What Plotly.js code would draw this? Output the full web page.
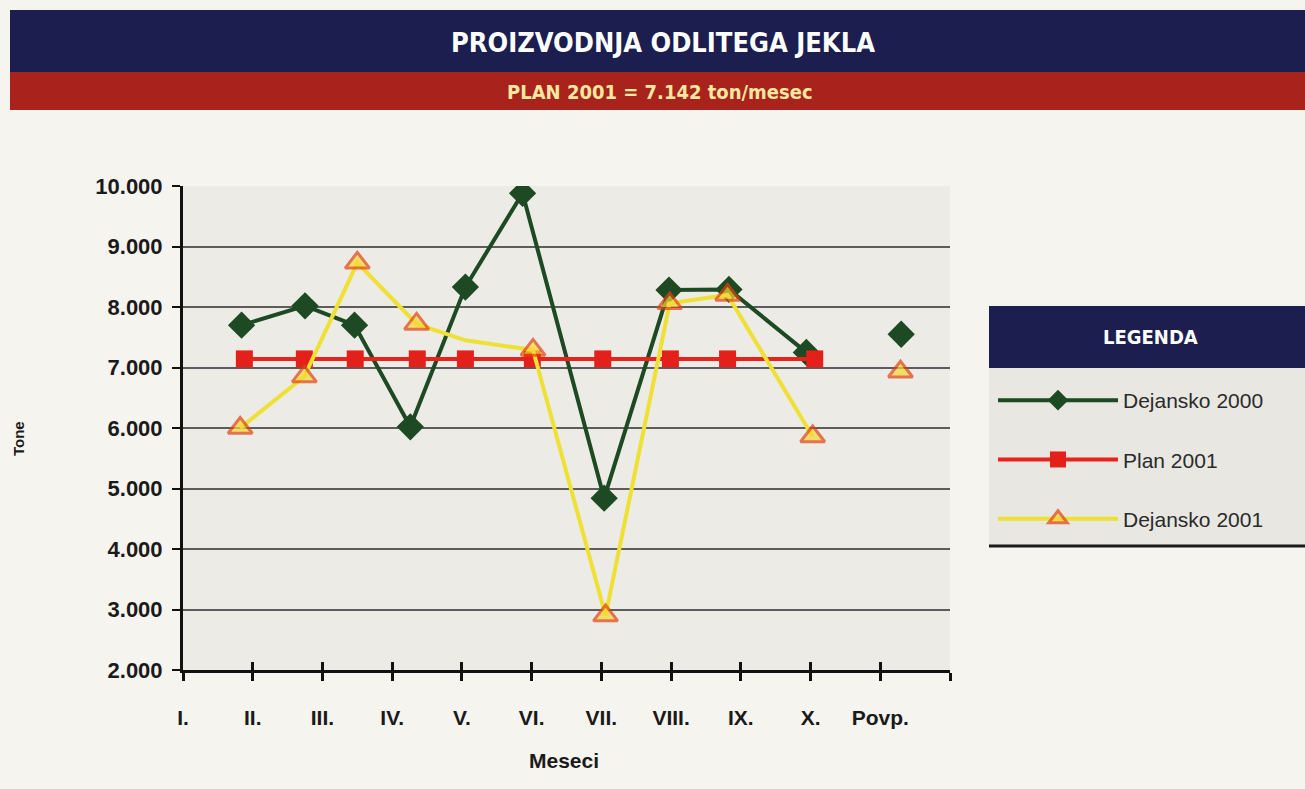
<!DOCTYPE html>
<html>
<head>
<meta charset="utf-8">
<script src="https://cdn.plot.ly/plotly-3.0.1.min.js"></script>
<style>
  html, body { margin: 0; padding: 0; background: #f6f4ee; }
  #chart { width: 1305px; height: 789px; }
</style>
</head>
<body>
<div id="chart"></div>
<script>
// month labels on the x axis (one extra unlabeled tick closes the axis)
const monthLabels = ["I.", "II.", "III.", "IV.", "V.", "VI.", "VII.", "VIII.", "IX.", "X.", "Povp.", ""];
const monthTicks = [0, 1, 2, 3, 4, 5, 6, 7, 8, 9, 10, 11];

// points sit a bit off the tick marks in the original, so x is read per point
const actual2000X = [0.84, 1.75, 2.46, 3.26, 4.05, 4.87, 6.04, 6.97, 7.83, 8.94];
const actual2000Y = [7700, 8020, 7700, 6020, 8330, 9880, 4840, 8280, 8290, 7250];
const actual2000AvgX = [10.30];
const actual2000AvgY = [7550];

const plan2001X = [0.88, 1.74, 2.47, 3.36, 4.05, 5.01, 6.02, 6.99, 7.81, 9.06];
const plan2001Y = [7142, 7142, 7142, 7142, 7142, 7142, 7142, 7142, 7142, 7142];

const actual2001X = [0.82, 1.74, 2.50, 3.35, 4.05, 5.02, 6.06, 6.98, 7.81, 9.03, null, 10.29];
const actual2001Y = [6000, 6850, 8730, 7720, 7450, 7290, 2900, 8060, 8200, 5860, null, 6930];
const actual2001Size = [21, 21, 21, 21, 0, 21, 21, 21, 21, 21, 0, 21];

const seriesNames = ["Dejansko 2000", "Plan 2001", "Dejansko 2001"];

// pixel -> paper helpers (plot area spans x 183..950, y 186..670)
const L = 183, R = 950, T = 186, B = 670;
const px = x => (x - L) / (R - L);
const py = y => (B - y) / (B - T);

const traces = [
    {
        name: seriesNames[0], legendgroup: "a",
        x: actual2000X, y: actual2000Y,
        type: "scatter", mode: "lines+markers",
        line: { color: "#1d4a22", width: 4 },
        marker: { symbol: "diamond", size: 21, color: "#1d4a22" }
    },
    {
        // average point, drawn on the overlay axis so its crossing ticks show
        name: seriesNames[0] + " povp.", showlegend: false, xaxis: "x2",
        x: actual2000AvgX, y: actual2000AvgY,
        type: "scatter", mode: "markers",
        marker: { symbol: "diamond", size: 21, color: "#1d4a22" }
    },
    {
        name: seriesNames[1], legendgroup: "b",
        x: plan2001X, y: plan2001Y,
        type: "scatter", mode: "lines+markers",
        line: { color: "#e8231c", width: 4 },
        marker: { symbol: "square", size: 17, color: "#e3201a" }
    },
    {
        name: seriesNames[2], legendgroup: "c",
        x: actual2001X, y: actual2001Y,
        type: "scatter", mode: "lines+markers", connectgaps: false,
        line: { color: "#efe035", width: 4 },
        marker: {
            symbol: "triangle-up", size: actual2001Size, color: "#f5d835",
            line: { color: "#e2420e", width: 3 }
        }
    }
];

const titleFont = "DejaVu Sans Condensed, Liberation Sans Narrow, sans-serif";

const layout = {
    width: 1305, height: 789,
    paper_bgcolor: "#f6f4ee", plot_bgcolor: "#ecebe5",
    margin: { l: L, r: 1305 - R, t: T, b: 789 - B },
    separators: ",.",
    font: { family: "Liberation Sans, Arial, sans-serif", color: "#1a1a1a" },
    xaxis: {
        range: [0, 11], tickvals: monthTicks, ticktext: monthLabels,
        showgrid: false, zeroline: false,
        showline: true, linecolor: "#111", linewidth: 3,
        ticks: "outside", ticklen: 8, tickwidth: 3, tickcolor: "#111",
        ticklabelstandoff: 19,
        tickfont: { size: 21, color: "#1a1a1a", weight: "bold" }
    },
    xaxis2: {
        overlaying: "x", matches: "x", anchor: "y", side: "bottom",
        range: [0, 11], tickvals: monthTicks, showticklabels: false,
        showgrid: false, zeroline: false, showline: false,
        ticks: "inside", ticklen: 8, tickwidth: 3, tickcolor: "#111"
    },
    yaxis: {
        range: [2000, 10000], dtick: 1000, tickformat: ",d",
        showgrid: true, gridcolor: "#5c5c5c", gridwidth: 2, zeroline: false,
        showline: true, linecolor: "#111", linewidth: 3,
        ticks: "outside", ticklen: 8, tickwidth: 2, tickcolor: "#111",
        ticklabelstandoff: 5,
        tickfont: { size: 22, color: "#1a1a1a", weight: "bold" }
    },
    showlegend: true,
    legend: {
        x: px(993), y: py(380), xanchor: "left", yanchor: "top",
        bgcolor: "rgba(0,0,0,0)", tracegroupgap: 29, itemwidth: 120,
        font: { size: 21, color: "#2b2b2b" }
    },
    shapes: [
        // title bands
        { type: "rect", xref: "paper", yref: "paper", x0: px(10), x1: px(1305), y0: py(72), y1: py(10),
          fillcolor: "#1b1e4f", line: { width: 0 } },
        { type: "rect", xref: "paper", yref: "paper", x0: px(10), x1: px(1305), y0: py(110), y1: py(72),
          fillcolor: "#a8231b", line: { width: 0 } },
        // legend box
        { type: "rect", xref: "paper", yref: "paper", x0: px(989), x1: px(1305), y0: py(368), y1: py(306),
          fillcolor: "#1b1e4f", line: { width: 0 } },
        { type: "rect", xref: "paper", yref: "paper", x0: px(989), x1: px(1305), y0: py(546), y1: py(368),
          fillcolor: "#e8e7e1", line: { width: 0 } },
        { type: "line", xref: "paper", yref: "paper", x0: px(989), x1: px(1305), y0: py(546), y1: py(546),
          line: { color: "#1a1a1a", width: 3 } }
    ],
    annotations: [
        { text: "PROIZVODNJA ODLITEGA JEKLA", xref: "paper", yref: "paper", x: px(663), y: py(42),
          xanchor: "center", yanchor: "middle", showarrow: false,
          font: { family: titleFont, size: 27, color: "#ffffff", weight: "bold" } },
        { text: "PLAN 2001 = 7.142 ton/mesec", xref: "paper", yref: "paper", x: px(660), y: py(92),
          xanchor: "center", yanchor: "middle", showarrow: false,
          font: { family: titleFont, size: 20, color: "#f6e7a2", weight: "bold" } },
        { text: "LEGENDA", xref: "paper", yref: "paper", x: px(1150), y: py(337),
          xanchor: "center", yanchor: "middle", showarrow: false,
          font: { family: titleFont, size: 20, color: "#ffffff", weight: "bold" } },
        { text: "Meseci", xref: "paper", yref: "paper", x: px(564), y: py(760),
          xanchor: "center", yanchor: "middle", showarrow: false,
          font: { size: 21, color: "#1a1a1a", weight: "bold" } },
        { text: "Tone", xref: "paper", yref: "paper", x: px(18), y: py(439), textangle: -90,
          xanchor: "center", yanchor: "middle", showarrow: false,
          font: { size: 15, color: "#1a1a1a", weight: "bold" } }
    ]
};

Plotly.newPlot("chart", traces, layout, { displayModeBar: false, staticPlot: true });
</script>
</body>
</html>
